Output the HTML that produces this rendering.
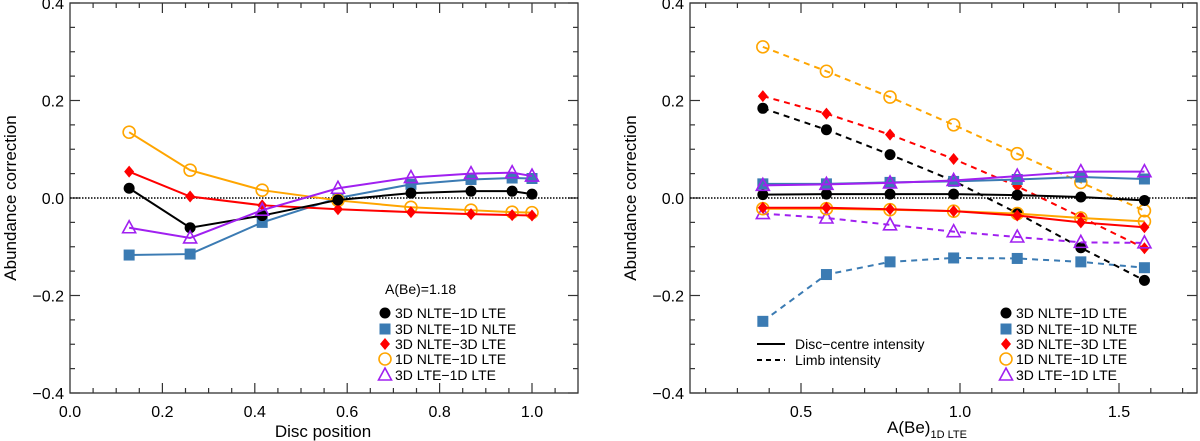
<!DOCTYPE html>
<html><head><meta charset="utf-8"><style>
body{margin:0;background:#fff;}
svg{display:block;font-family:"Liberation Sans",sans-serif;}
</style></head><body>
<svg id="c" width="1200" height="441"></svg>
<script>
// Left panel data
const discPos = [0.128,0.26,0.416,0.58,0.738,0.868,0.957,1.0];
const L_blk = [0.020,-0.061,-0.036,-0.004,0.010,0.014,0.014,0.008];
const L_blu = [-0.117,-0.115,-0.050,0.000,0.028,0.038,0.041,0.040];
const L_red = [0.054,0.003,-0.015,-0.023,-0.029,-0.033,-0.035,-0.036];
const L_org = [0.135,0.057,0.016,-0.005,-0.019,-0.025,-0.029,-0.030];
const L_pur = [-0.061,-0.082,-0.025,0.020,0.042,0.050,0.052,0.045];
// Right panel data
const abund = [0.38,0.58,0.78,0.98,1.18,1.38,1.58];
const C_blk = [0.007,0.008,0.008,0.008,0.006,0.002,-0.005];
const C_blu = [0.029,0.029,0.032,0.034,0.038,0.043,0.039];
const C_red = [-0.020,-0.020,-0.023,-0.027,-0.036,-0.050,-0.060];
const C_org = [-0.022,-0.022,-0.024,-0.027,-0.032,-0.041,-0.048];
const C_pur = [0.026,0.028,0.031,0.036,0.045,0.054,0.054];
const M_blk = [0.184,0.140,0.089,0.035,-0.031,-0.102,-0.169];
const M_blu = [-0.253,-0.157,-0.131,-0.123,-0.124,-0.131,-0.143];
const M_red = [0.209,0.173,0.130,0.080,0.024,-0.039,-0.103];
const M_org = [0.310,0.260,0.207,0.150,0.091,0.032,-0.026];
const M_pur = [-0.032,-0.041,-0.055,-0.069,-0.080,-0.091,-0.092];
const yTicks = [-0.4,-0.2,0.0,0.2,0.4];
const xTicksL = [0.0,0.2,0.4,0.6,0.8,1.0];
const xTicksR = [0.5,1.0,1.5];

const NS="http://www.w3.org/2000/svg";
const svg=document.getElementById('c');
function mk(tag,attrs,parent){const e=document.createElementNS(NS,tag);for(const k in attrs)e.setAttribute(k,attrs[k]);(parent||svg).appendChild(e);return e;}
const COL={blk:'#000',blu:'#3b7bb3',red:'#ff0000',org:'#ffa500',pur:'#a020f0'};
const yS=v=>198-487.5*v;
const xL=v=>70+v*462;
const xR=v=>801+(v-0.5)*318;

function marker(g,type,x,y,col){
  let e;
  if(type==='blk'){e=mk('circle',{cx:x,cy:y,r:5.5,fill:col},g);}
  else if(type==='blu'){e=mk('rect',{x:x-5.5,y:y-5.5,width:11,height:11,fill:col},g);}
  else if(type==='red'){e=mk('polygon',{points:`${x},${y-6} ${x+5},${y} ${x},${y+6} ${x-5},${y}`,fill:col},g);}
  else if(type==='org'){e=mk('circle',{cx:x,cy:y,r:6,fill:'none',stroke:col,'stroke-width':1.6},g);}
  else {e=mk('polygon',{points:`${x},${y-7} ${x+6.5},${y+5} ${x-6.5},${y+5}`,fill:'none',stroke:col,'stroke-width':1.6},g);}
  
  
}
function series(xs,ys,fx,type,dash,name){
  const g=mk('g',{});
  
  
  const pts=xs.map((x,i)=>fx(x)+','+yS(ys[i])).join(' ');
  const a={points:pts,fill:'none',stroke:COL[type],'stroke-width':2};
  if(dash)a['stroke-dasharray']='6,5';
  mk('polyline',a,g);
  xs.forEach((x,i)=>marker(g,type,fx(x),yS(ys[i]),COL[type]));
}
function axes(x0,x1,fx,xt,minorStep,xmin,xmax,name){
  const g=mk('g',{});
  
  
  mk('rect',{x:x0,y:3,width:x1-x0,height:390,fill:'none',stroke:'#333','stroke-width':1.3},g);
  for(let v=-0.4;v<=0.4001;v+=0.05){const y=yS(v);const maj=Math.abs(v*10-Math.round(v*10))<1e-6&&Math.round(v*10)%2===0;const l=maj?10:5;
    mk('line',{x1:x0,y1:y,x2:x0+l,y2:y,stroke:'#333','stroke-width':1.2},g);
    mk('line',{x1:x1,y1:y,x2:x1-l,y2:y,stroke:'#333','stroke-width':1.2},g);}
  yTicks.forEach(v=>{const t=mk('text',{x:x0-6,y:yS(v)+6,'text-anchor':'end','font-size':16},g);t.textContent=(v<0?'\u2212':'')+Math.abs(v).toFixed(1);
    });
  for(let v=xmin;v<=xmax+1e-6;v+=minorStep){const x=fx(v);if(x<x0+1||x>x1-1)continue;const maj=xt.some(m=>Math.abs(m-v)<1e-6);const l=maj?10:5;
    mk('line',{x1:x,y1:393,x2:x,y2:393-l,stroke:'#333','stroke-width':1.2},g);
    mk('line',{x1:x,y1:3,x2:x,y2:3+l,stroke:'#333','stroke-width':1.2},g);}
  xt.forEach(v=>{const t=mk('text',{x:fx(v),y:417,'text-anchor':'middle','font-size':16},g);t.textContent=v.toFixed(1);
    });
  mk('line',{x1:x0,y1:yS(0),x2:x1,y2:yS(0),stroke:'#000','stroke-width':1.5,'stroke-dasharray':'1.5,1.5'},g);
  const yl=mk('text',{x:0,y:0,transform:`translate(${x0-54},198) rotate(-90)`,'text-anchor':'middle','font-size':17},g);
  yl.textContent='Abundance correction';
  
}
axes(70,578,xL,xTicksL,0.05,0,1.1,'left-axes');
axes(690,1197,xR,xTicksR,0.1,0.2,1.8,'right-axes');
let t=mk('text',{x:323,y:437,'text-anchor':'middle','font-size':17});t.textContent='Disc position';

t=mk('text',{x:927,y:433,'text-anchor':'middle','font-size':17});

t.innerHTML='A(Be)<tspan font-size="11" dy="5">1D LTE</tspan>';

series(discPos,L_blu,xL,'blu',false,'left-series-3dnlte-1dnlte');
series(discPos,L_org,xL,'org',false,'left-series-1dnlte-1dlte');
series(discPos,L_red,xL,'red',false,'left-series-3dnlte-3dlte');
series(discPos,L_blk,xL,'blk',false,'left-series-3dnlte-1dlte');
series(discPos,L_pur,xL,'pur',false,'left-series-3dlte-1dlte');

series(abund,M_blu,xR,'blu',true,'right-limb-3dnlte-1dnlte');
series(abund,M_org,xR,'org',true,'right-limb-1dnlte-1dlte');
series(abund,M_red,xR,'red',true,'right-limb-3dnlte-3dlte');
series(abund,M_blk,xR,'blk',true,'right-limb-3dnlte-1dlte');
series(abund,M_pur,xR,'pur',true,'right-limb-3dlte-1dlte');
series(abund,C_blu,xR,'blu',false,'right-centre-3dnlte-1dnlte');
series(abund,C_org,xR,'org',false,'right-centre-1dnlte-1dlte');
series(abund,C_red,xR,'red',false,'right-centre-3dnlte-3dlte');
series(abund,C_blk,xR,'blk',false,'right-centre-3dnlte-1dlte');
series(abund,C_pur,xR,'pur',false,'right-centre-3dlte-1dlte');

const legNames=['3D NLTE\u22121D LTE','3D NLTE\u22121D NLTE','3D NLTE\u22123D LTE','1D NLTE\u22121D LTE','3D LTE\u22121D LTE'];
const legTypes=['blk','blu','red','org','pur'];
const legRows=[313,329,344,359,375];
function legend(sx,name){
  const g=mk('g',{});
  
  legNames.forEach((n,i)=>{
    const sg=mk('g',{},g);
    
    marker(sg,legTypes[i],sx,legRows[i],COL[legTypes[i]]);
    const tt=mk('text',{x:sx+10,y:legRows[i]+5,'font-size':14},sg);tt.textContent=n;
  });
}
legend(385,'legend-left');
legend(1006,'legend-right');
t=mk('text',{x:385,y:294,'font-size':14});t.textContent='A(Be)=1.18';

const lg=mk('g',{});

mk('line',{x1:757,y1:344,x2:785,y2:344,stroke:'#000','stroke-width':2},lg);
mk('line',{x1:757,y1:360,x2:785,y2:360,stroke:'#000','stroke-width':2,'stroke-dasharray':'5,4'},lg);
t=mk('text',{x:795,y:349,'font-size':14},lg);t.textContent='Disc\u2212centre intensity';
t=mk('text',{x:795,y:365,'font-size':14},lg);t.textContent='Limb intensity';
</script>
</body></html>
